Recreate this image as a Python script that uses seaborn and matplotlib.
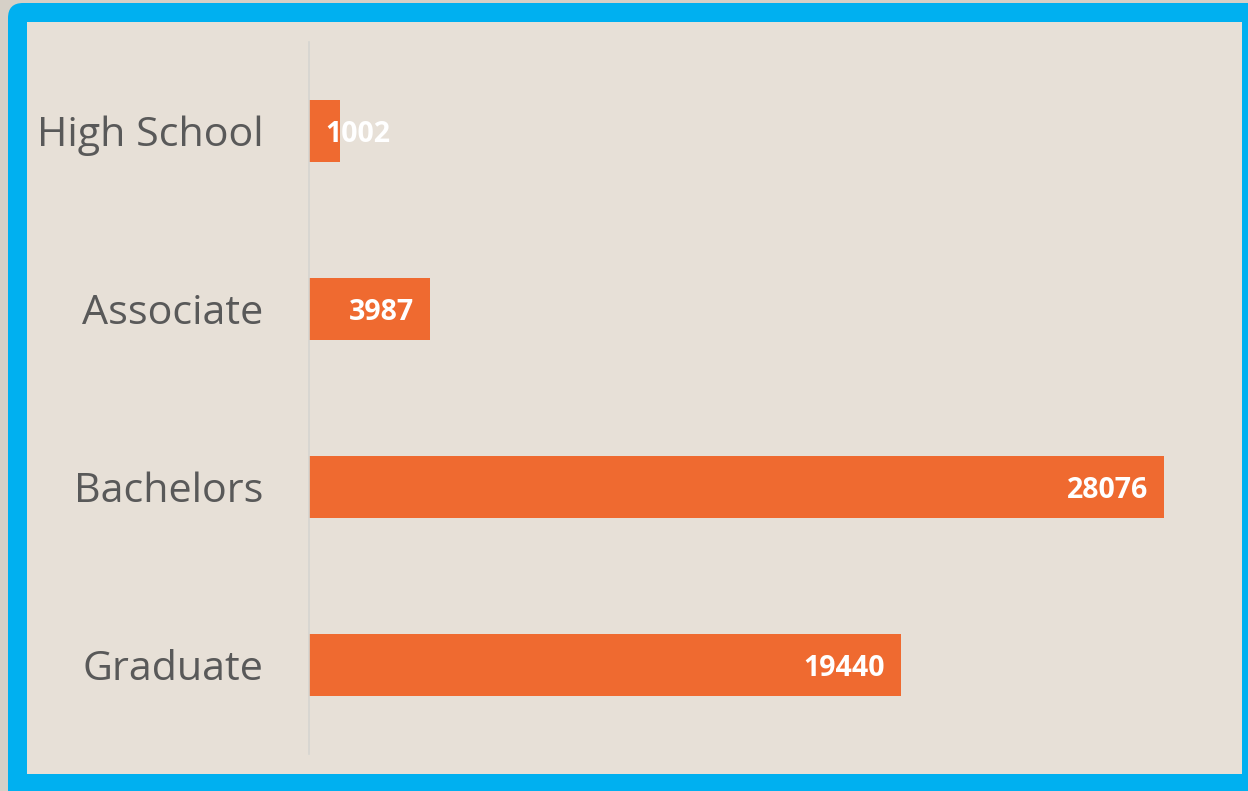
import matplotlib
matplotlib.use("Agg")
import matplotlib.pyplot as plt
from matplotlib.patches import FancyBboxPatch, Rectangle
import seaborn as sns
import pandas as pd

# values
categories = ["High School", "Associate", "Bachelors", "Graduate"]
counts = [1002, 3987, 28076, 19440]

bar_color = "#EF6A30"
bg_color = "#E7E0D7"
frame_blue = "#00B0F0"
text_gray = "#595959"

df = pd.DataFrame({"level": categories, "count": counts})

W, H = 1248, 791
fig = plt.figure(figsize=(W / 100, H / 100), dpi=100)
fig.patch.set_facecolor("#D6D0C7")

# blue rounded frame (runs off the bottom and right) and beige panel
fig.patches.append(FancyBboxPatch((8 / W, -0.2), 1.2, 1.2 - 3 / H, boxstyle="round,pad=0,rounding_size=0.012",
                                  transform=fig.transFigure, facecolor=frame_blue, edgecolor="none",
                                  mutation_aspect=W / H, zorder=-2))
fig.patches.append(Rectangle((27 / W, 1 - 774 / H), (1242 - 27) / W, (774 - 22) / H,
                             transform=fig.transFigure, facecolor=bg_color, edgecolor="none", zorder=-1))

ax = fig.add_axes([309 / W, 1 - 754 / H, (1222.5 - 309) / W, (754 - 42) / H])
ax.set_zorder(3)
ax.patch.set_alpha(0)

sns.barplot(data=df, x="count", y="level", orient="h", color=bar_color, saturation=1,
            width=0.35, ax=ax)

ax.set_xlim(0, 30000)
ax.set_ylim(3.5, -0.5)
ax.set_xlabel("")
ax.set_ylabel("")
ax.set_xticks([])
for s in ["top", "right", "bottom"]:
    ax.spines[s].set_visible(False)
ax.spines["left"].set_color("#D5D5D0")
ax.spines["left"].set_linewidth(1.2)
ax.tick_params(axis="y", length=0, pad=33, labelsize=29.7, labelcolor=text_gray)
for lab in ax.get_yticklabels():
    lab.set_fontfamily("Open Sans")

# value labels, inside end (pushed to base side when bar is too short)
px_per_unit = (1222.5 - 309) / 30000
for p, v in zip(ax.patches, counts):
    yc = p.get_y() + p.get_height() / 2
    if v * px_per_unit < 110:
        ax.annotate(str(v), (0, yc), xytext=(16, -3), textcoords="offset pixels",
                    ha="left", va="center", color="white", fontsize=20.5,
                    fontweight="bold", family="Open Sans")
    else:
        ax.annotate(str(v), (v, yc), xytext=(-16, -3), textcoords="offset pixels",
                    ha="right", va="center", color="white", fontsize=20.5,
                    fontweight="bold", family="Open Sans")

fig.savefig("out.png", dpi=100, facecolor=fig.get_facecolor())
